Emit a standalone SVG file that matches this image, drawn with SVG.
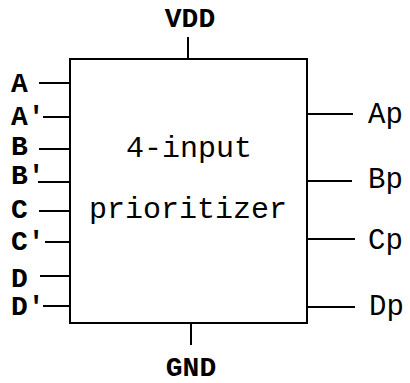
<svg xmlns="http://www.w3.org/2000/svg" width="410" height="383" viewBox="0 0 410 383">
<style>
text{font-family:"Liberation Mono","Courier New",monospace;fill:#000}
.lbl{font-size:28px;font-weight:bold}
.out{font-size:29px}
.ttl{font-size:30px}
.ln{stroke:#000;stroke-width:2;fill:none}
</style>
<rect width="410" height="383" fill="#fff"/>
<g id="block">
<rect x="70" y="59" width="237" height="264" class="ln"/>
<text class="ttl" x="189" y="157" text-anchor="middle">4-input</text>
<text class="ttl" x="188" y="218" text-anchor="middle">prioritizer</text>
</g>
<g id="connectors">
<path class="ln" d="M188 37V59M191 323V345"/>
<path class="ln" d="M39 83H70M43 117H70M39 149H70M38 182H70M39 211H70M45 242H70M40 276H70M43 306H70"/>
<path class="ln" d="M307 114H353M307 181H352M307 239H355M307 307H355"/>
</g>
<g id="labels">
<text class="lbl" x="190" y="27" text-anchor="middle">VDD</text>
<text class="lbl" x="191" y="376" text-anchor="middle">GND</text>
<text class="lbl" x="11" y="92">A</text>
<text class="lbl" x="11" y="125">A'</text>
<text class="lbl" x="11" y="155">B</text>
<text class="lbl" x="11" y="184">B'</text>
<text class="lbl" x="11" y="218">C</text>
<text class="lbl" x="11" y="250">C'</text>
<text class="lbl" x="11" y="287">D</text>
<text class="lbl" x="11" y="315">D'</text>
<text class="out" x="368" y="123">Ap</text>
<text class="out" x="368" y="188">Bp</text>
<text class="out" x="368" y="249">Cp</text>
<text class="out" x="369" y="315">Dp</text>
</g>
</svg>
